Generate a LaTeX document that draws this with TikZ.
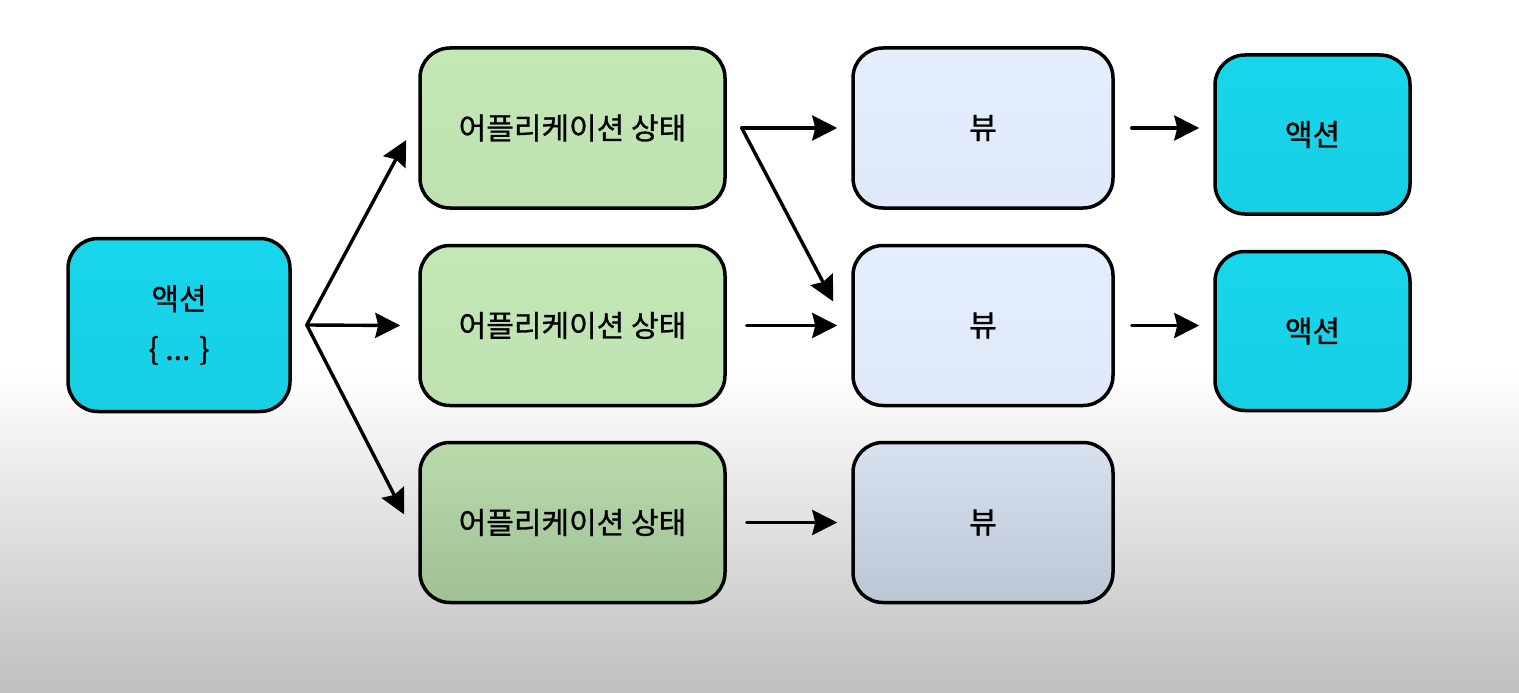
\documentclass[tikz,border=0pt]{standalone}
\usepackage{fontspec}
\setmainfont{Noto Sans CJK KR}
\newfontfamily\medfont{Noto Sans CJK KR}[FakeBold=0.9]
\usetikzlibrary{arrows.meta,calc}
\definecolor{actc}{RGB}{24,214,236}
\definecolor{actcb}{RGB}{23,207,228}
\definecolor{grn}{RGB}{195,232,182}
\definecolor{grnb}{RGB}{190,226,177}
\definecolor{grn3t}{RGB}{184,219,172}
\definecolor{grn3b}{RGB}{160,192,150}
\definecolor{vw}{RGB}{228,238,253}
\definecolor{vwb}{RGB}{222,232,246}
\definecolor{vw3t}{RGB}{215,225,239}
\definecolor{vw3b}{RGB}{189,198,212}
\definecolor{bgb}{RGB}{191,191,191}
\tikzset{
  box/.style={draw=black, line width=3.5pt, rounded corners=30pt, inner sep=0pt,
    font=\medfont\fontsize{30}{50}\selectfont, align=center, text=black},
  actbox/.style={box, shade, top color=actc, bottom color=actcb, minimum width=222pt, minimum height=173pt},
  actbox2/.style={box, shade, top color=actc, bottom color=actcb, minimum width=195pt, minimum height=159pt},
  appbox/.style={box, shade, top color=grn, bottom color=grnb, minimum width=305pt, minimum height=160pt},
  appbox3/.style={box, shade, top color=grn3t, bottom color=grn3b, minimum width=305pt, minimum height=160pt},
  viewbox/.style={box, shade, top color=vw, bottom color=vwb, minimum width=260pt, minimum height=160pt},
  viewbox3/.style={box, shade, top color=vw3t, bottom color=vw3b, minimum width=260pt, minimum height=160pt},
  conn/.style={line width=3.4pt, line cap=round, -{Stealth[length=25pt,width=25pt,inset=3pt]}},
}
\begin{document}
\begin{tikzpicture}[x=1pt,y=-1pt]
\useasboundingbox (0,0) rectangle (1519,693);
\fill[white] (0,0) rectangle (1519,371);
\shade[top color=white, bottom color=bgb] (0,370) rectangle (1519,693);

\node[actbox] (a0) at (179,325) {액션\\\{ ... \}};
\node[appbox] (g1) at (572.5,128) {어플리케이션 상태};
\node[appbox] (g2) at (572.5,325.5) {어플리케이션 상태};
\node[appbox3] (g3) at (572.5,522.5) {어플리케이션 상태};
\node[viewbox] (v1) at (983,128) {뷰};
\node[viewbox] (v2) at (983,325.5) {뷰};
\node[viewbox3] (v3) at (983,522.5) {뷰};
\node[actbox2] (r1) at (1312.5,134.5) {액션};
\node[actbox2] (r2) at (1312.5,331) {액션};

\coordinate (fork) at ($(a0.east)+(15,0)$);
\coordinate (split) at ($(g1.east)+(15,0)$);
\draw[conn] (fork) -- ($(g1.west)+(-12,12)$);
\draw[conn] (fork) -- ($(g2.west)+(-18,0)$);
\draw[conn] (fork) -- ($(g3.west)+(-14,-8)$);
\draw[conn] (split) -- ($(v1.west)+(-14,0)$);
\draw[conn] (split) -- ($(v2.west)+(-18,-24)$);
\draw[conn] ($(g2.east)+(20,0)$) -- ($(v2.west)+(-14,0)$);
\draw[conn] ($(g3.east)+(20,0)$) -- ($(v3.west)+(-14,0)$);
\draw[conn] ($(v1.east)+(17,0)$) -- ($(v1.east -| r1.west)+(-14,0)$);
\draw[conn] ($(v2.east)+(17,0)$) -- ($(v2.east -| r2.west)+(-14,0)$);
\end{tikzpicture}
\end{document}
